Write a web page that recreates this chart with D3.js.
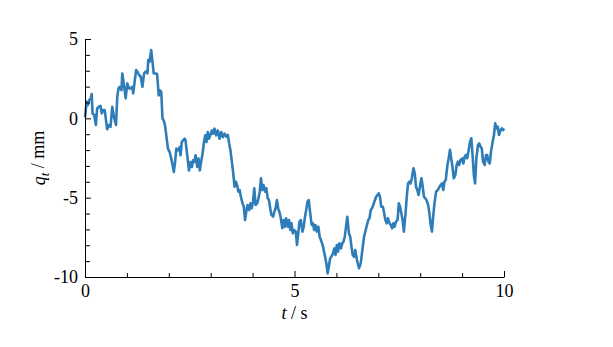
<!DOCTYPE html>
<html lang="en">
<head>
    <meta charset="UTF-8">
    <style>
        body {
            margin: 0;
            padding: 0;
            background-color: #fff;
            overflow: hidden;
        }

        #chart {
            display: block;
        }

        .axis text {
            font-family: "Liberation Serif", "DejaVu Serif", serif;
            font-size: 18px;
            fill: #000;
        }

        .axis path,
        .axis line {
            stroke: #000;
            stroke-width: 1px;
        }

        .label {
            font-family: "Liberation Serif", "DejaVu Serif", serif;
            font-size: 18px;
            fill: #000;
        }

        .trace {
            fill: none;
            stroke: #2f7db8;
            stroke-width: 2.6px;
            stroke-linejoin: round;
        }
    </style>
</head>
<body>
    <svg id="chart"></svg>

    <script src="https://cdn.jsdelivr.net/npm/d3@7"></script>
    <script>
        const width = 613;
        const height = 347;
        const margin = { top: 39, right: 109, bottom: 70, left: 85 };

        // time samples (s)
        const tValues = [
            0.00, 0.04, 0.07, 0.10, 0.14, 0.16, 0.18, 0.22, 0.26, 0.29,
            0.33, 0.37, 0.40, 0.43, 0.47, 0.50, 0.53, 0.57, 0.61, 0.65,
            0.69, 0.74, 0.77, 0.80, 0.83, 0.87, 0.89, 0.93, 0.97, 1.01,
            1.05, 1.09, 1.13, 1.15, 1.18, 1.22, 1.25, 1.29, 1.33, 1.37,
            1.41, 1.45, 1.49, 1.51, 1.54, 1.58, 1.61, 1.64, 1.68,
            1.72, 1.76, 1.79, 1.82, 1.85, 1.88, 1.91, 1.95, 1.98, 2.02,
            2.06, 2.10, 2.12, 2.15, 2.18, 2.22, 2.26, 2.28, 2.31, 2.34,
            2.38, 2.40, 2.42, 2.45, 2.48, 2.52, 2.55, 2.58, 2.61, 2.64,
            2.68, 2.71, 2.74, 2.77, 2.80, 2.84, 2.87, 2.90, 2.93, 2.96,
            2.99, 3.03, 3.06, 3.09, 3.13, 3.17, 3.21, 3.25, 3.29, 3.33,
            3.37, 3.41, 3.44, 3.47, 3.50, 3.53, 3.57, 3.60, 3.63, 3.66,
            3.69, 3.72, 3.76, 3.79, 3.82, 3.85, 3.88, 3.92, 3.95, 3.98,
            4.01, 4.04, 4.07, 4.11, 4.14, 4.17, 4.20, 4.23, 4.26, 4.30,
            4.33, 4.36, 4.39, 4.42, 4.45, 4.49, 4.52, 4.55, 4.58, 4.61,
            4.65, 4.68, 4.71, 4.74, 4.77, 4.80, 4.84, 4.87, 4.90, 4.93,
            4.96, 4.99,
            5.03, 5.06, 5.09, 5.12, 5.15, 5.19, 5.22, 5.25, 5.28, 5.31,
            5.34, 5.38, 5.41, 5.44, 5.47, 5.50, 5.53, 5.57, 5.60, 5.63,
            5.66, 5.69, 5.73, 5.76, 5.79, 5.82, 5.85, 5.88, 5.92, 5.95,
            5.98, 6.01, 6.04, 6.07, 6.11, 6.14, 6.17, 6.20, 6.23, 6.26,
            6.30, 6.33, 6.36, 6.39, 6.42,
            6.45, 6.49, 6.54, 6.58, 6.62, 6.66, 6.71,
            6.76, 6.79, 6.82, 6.85, 6.88, 6.92, 6.95, 6.98, 7.01, 7.04,
            7.07, 7.11, 7.14, 7.17, 7.20, 7.23, 7.27, 7.30, 7.33, 7.36,
            7.39, 7.42, 7.46, 7.49, 7.52, 7.55, 7.58, 7.61, 7.65, 7.68,
            7.71, 7.74, 7.77, 7.80, 7.84, 7.87, 7.90, 7.93, 7.96, 8.00,
            8.03, 8.06, 8.09, 8.12, 8.15, 8.19, 8.22, 8.25, 8.28, 8.31,
            8.34, 8.38,
            8.42, 8.46, 8.49, 8.52, 8.55, 8.58, 8.61, 8.65, 8.68, 8.71,
            8.74, 8.77, 8.80, 8.84, 8.87, 8.90, 8.93, 8.96, 9.00, 9.03,
            9.06, 9.09, 9.12, 9.15, 9.19, 9.22, 9.25, 9.28, 9.31, 9.34,
            9.38, 9.41, 9.44, 9.47, 9.50, 9.54, 9.57, 9.60, 9.63, 9.66,
            9.69, 9.73, 9.76, 9.79, 9.82, 9.85, 9.88, 9.92, 9.95, 9.98,
            10.00
        ];

        // displacement q_t (mm) at each sample
        const qValues = [
            0.06, 1.05, 0.84, 1.15, 1.26, 1.53, 0.31, 0.21, -0.42, 0.63,
            0.73, 0.78, 0.31, 0.52, 0.52, -0.10, -0.69, -0.42, -0.53, 0.73,
            0.10, -0.42, 1.36, 1.89, 1.99, 1.78, 2.83, 2.10, 1.26, 2.20,
            1.89, 1.89, 1.99, 1.57, 2.20, 3.04, 2.94, 2.73, 2.62, 1.99,
            2.83, 2.94, 2.83, 3.67, 3.57, 4.30, 3.57, 2.83, 2.83,
            2.81, 1.45, 1.76, 1.66, -0.02, -0.13, -0.44, -1.28, -1.91, -2.12,
            -2.54, -3.07, -3.38, -2.75, -1.91, -2.02, -1.81, -2.33, -1.49, -1.39,
            -1.28, -1.39, -1.91, -2.54, -3.28, -2.75, -3.07, -2.65, -2.75, -2.33,
            -3.07, -2.54, -3.28, -2.75, -2.33, -1.49, -1.07, -1.49, -0.86, -1.28,
            -1.07, -0.76, -0.97, -0.65, -1.07, -0.76, -1.28, -0.86, -1.18, -0.97,
            -1.16, -1.05, -1.58, -1.99, -2.63, -3.26, -4.31, -3.99, -4.20, -4.62,
            -4.52, -4.94, -5.36, -5.57, -6.41, -5.88, -5.46, -5.78, -5.36, -5.67,
            -5.25, -4.41, -5.46, -5.36, -5.04, -4.62, -3.78, -4.52, -4.20, -4.62,
            -4.41, -5.04, -5.15, -5.67, -6.09, -6.20, -5.88, -5.67, -5.15, -5.67,
            -5.99, -6.41, -6.93, -6.41, -6.83, -6.30, -6.83, -6.41, -7.04, -6.62,
            -7.25, -7.04,
            -7.14, -7.98, -7.25, -6.51, -6.41, -7.14, -6.83, -6.20, -5.78, -5.25,
            -5.15, -6.09, -6.72, -6.62, -7.04, -6.72, -7.14, -6.83, -7.46, -7.67,
            -7.88, -8.20, -8.72, -9.14, -9.77, -9.35, -8.82, -8.72, -8.51, -8.20,
            -8.61, -7.98, -8.40, -7.88, -8.20, -7.88, -7.77, -7.46, -6.83, -6.20,
            -7.25, -7.46, -8.09, -8.61, -8.72,
            -8.30, -8.93, -9.45, -9.14, -8.30, -7.46, -6.93,
            -6.41, -6.30, -5.78, -5.67, -5.46, -5.15, -4.94, -4.83, -4.73, -4.94,
            -5.57, -5.57, -5.99, -6.41, -6.62, -6.30, -6.62, -6.72, -6.93, -6.62,
            -6.83, -6.51, -6.41, -5.36, -5.57, -5.99, -6.41, -7.14, -5.99, -4.94,
            -4.10, -3.99, -4.10, -3.78, -3.15, -3.47, -4.31, -4.52, -4.83, -4.20,
            -3.78, -4.31, -4.94, -5.04, -5.15, -5.46, -5.99, -6.72, -7.14, -6.20,
            -5.36, -4.62,
            -4.52, -4.31, -4.20, -4.10, -4.52, -3.99, -3.89, -2.94, -2.52, -1.99,
            -2.52, -3.05, -3.78, -3.57, -2.94, -2.73, -2.94, -2.63, -2.52, -2.84,
            -2.42, -2.31, -2.52, -2.10, -1.47, -1.26, -2.31, -3.57, -4.10, -2.52,
            -1.68, -1.58, -1.79, -1.89, -2.73, -2.94, -2.31, -2.31, -2.73, -2.84,
            -2.10, -1.47, -1.05, -0.32, -0.63, -0.53, -1.05, -0.74, -0.63, -0.74,
            -0.63
        ];

        const xMajorTicks = [0, 5, 10];
        const xMinorTicks = [1, 2, 3, 4, 6, 7, 8, 9];
        const yMajorTicks = [-10, -5, 0, 5];
        const yMinorTicks = [-9, -8, -7, -6, -4, -3, -2, -1, 1, 2, 3, 4];

        const svg = d3.select("#chart")
            .attr("width", width)
            .attr("height", height);

        const x = d3.scaleLinear()
            .domain([0, 10])
            .range([margin.left, width - margin.right]);

        const y = d3.scaleLinear()
            .domain([-10, 5])
            .range([height - margin.bottom, margin.top]);

        const points = tValues.map((t, i) => [t, qValues[i]]);

        const line = d3.line()
            .x(d => x(d[0]))
            .y(d => y(d[1]));

        svg.append("path")
            .datum(points)
            .attr("class", "trace")
            .attr("d", line);

        // minor ticks first, then the major axis on top
        svg.append("g")
            .attr("class", "axis")
            .attr("transform", `translate(0,${height - margin.bottom})`)
            .call(d3.axisBottom(x).tickValues(xMinorTicks).tickSize(-4).tickFormat(""))
            .call(g => g.select(".domain").remove());

        svg.append("g")
            .attr("class", "axis")
            .attr("transform", `translate(0,${height - margin.bottom})`)
            .call(d3.axisBottom(x).tickValues(xMajorTicks).tickSize(-6).tickSizeOuter(0)
                .tickPadding(7).tickFormat(d => String(d)));

        svg.append("g")
            .attr("class", "axis")
            .attr("transform", `translate(${margin.left},0)`)
            .call(d3.axisLeft(y).tickValues(yMinorTicks).tickSize(-5).tickFormat(""))
            .call(g => g.select(".domain").remove());

        svg.append("g")
            .attr("class", "axis")
            .attr("transform", `translate(${margin.left},0)`)
            .call(d3.axisLeft(y).tickValues(yMajorTicks).tickSize(-6).tickSizeOuter(0)
                .tickPadding(7).tickFormat(d => String(d)));

        // axis titles
        const xTitle = svg.append("text")
            .attr("class", "label")
            .attr("x", (margin.left + width - margin.right) / 2)
            .attr("y", 319)
            .attr("text-anchor", "middle");
        xTitle.append("tspan").attr("font-style", "italic").text("t");
        xTitle.append("tspan").text(" / s");

        const yTitle = svg.append("text")
            .attr("class", "label")
            .attr("transform", `translate(45,${(margin.top + height - margin.bottom) / 2}) rotate(-90)`)
            .attr("text-anchor", "middle");
        yTitle.append("tspan").attr("font-style", "italic").text("q");
        yTitle.append("tspan").attr("font-style", "italic").attr("font-size", "13px")
            .attr("dy", "0.3em").text("t");
        yTitle.append("tspan").attr("dy", "-0.3em").text(" / mm");
    </script>
</body>
</html>
